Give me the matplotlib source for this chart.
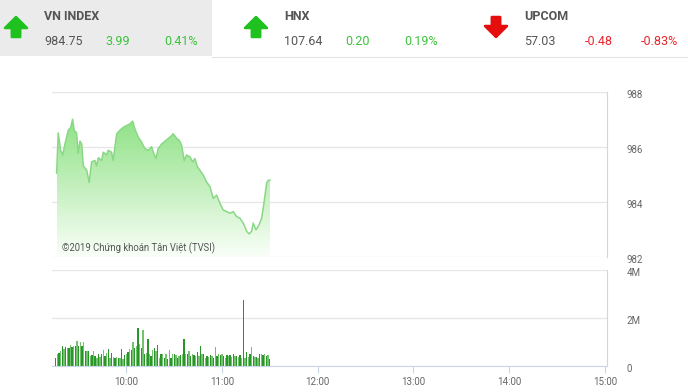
import numpy as np
import matplotlib
matplotlib.use("Agg")
import matplotlib.pyplot as plt
from matplotlib.patches import Polygon, Rectangle
from matplotlib.lines import Line2D
from matplotlib import font_manager
import matplotlib.transforms as mtrans

# ---------------- data ----------------
# index header
idx_names = ["VN INDEX", "HNX", "UPCOM"]
idx_values = ["984.75", "107.64", "57.03"]
idx_changes = ["3.99", "0.20", "-0.48"]
idx_pcts = ["0.41%", "0.19%", "-0.83%"]
idx_up = [True, True, False]

# intraday price (minutes after 09:00, index value)
price_minutes = [16.6, 17.6, 19.1, 20.4, 21.8, 23.9, 25.4, 26.6, 27.6, 29.1, 30.1,
                 31.2, 32.3, 33.3, 35.4, 37.0, 38.5, 40.6, 41.6, 42.7, 44.8, 45.8,
                 47.9, 48.9, 51.0, 52.0, 54.2, 56.2, 58.3, 60.4, 62.5, 64.2, 65.6,
                 67.7, 69.8, 71.9, 74.0, 76.1, 77.1, 78.8, 80.2, 82.4, 84.4, 86.5,
                 88.6, 89.6, 91.8, 93.4, 94.9, 96.5, 98.0, 100.1, 101.8, 103.2,
                 104.7, 106.3, 108.4, 110.5, 112.6, 114.7, 116.8, 118.9, 120.9,
                 123.1, 125.1, 127.2, 129.3, 131.4, 133.5, 135.6, 137.2, 138.7,
                 139.7, 141.4, 142.9, 145.0, 146.4, 148.1, 149.1, 150.2]
price_values = [985.04, 986.50, 985.87, 985.70, 986.10, 986.60, 986.70, 987.00,
                986.60, 986.50, 985.76, 986.20, 986.10, 985.30, 985.15, 984.70,
                985.45, 985.50, 985.30, 985.60, 985.50, 985.80, 985.70, 985.87,
                985.80, 985.50, 986.47, 986.60, 986.70, 986.77, 986.83, 986.93,
                986.65, 986.35, 986.17, 985.93, 985.87, 986.00, 985.80, 985.57,
                985.93, 986.10, 986.20, 986.30, 986.40, 986.47, 986.30, 986.23,
                986.05, 985.50, 985.70, 985.63, 985.45, 985.57, 985.27, 985.15,
                984.97, 984.72, 984.55, 984.12, 984.24, 983.94, 983.70, 983.64,
                983.58, 983.64, 983.46, 983.40, 983.22, 982.92, 982.83, 982.92,
                983.22, 982.98, 983.10, 983.40, 983.94, 984.67, 984.78, 984.78]

# volume (millions of shares), one bar per ~minute from 09:16 to 11:30
volume_m = [0.35, 0.52, 0.55, 0.63, 0.84, 0.70, 0.80, 0.77, 0.74, 0.88, 0.80, 0.84,
            0.84, 1.05, 0.84, 1.02, 0.84, 1.00, 0.63, 0.63, 0.63, 0.42, 0.46, 0.63,
            0.42, 0.35, 0.52, 0.38, 0.49, 0.66, 0.42, 0.56, 0.70, 0.35, 0.56, 0.38,
            0.32, 0.38, 0.32, 0.35, 0.70, 0.28, 0.46, 0.52, 0.60, 0.70, 0.66, 0.98,
            0.77, 0.84, 1.57, 0.91, 0.77, 1.52, 0.52, 0.56, 1.12, 0.52, 0.42, 0.66,
            0.77, 0.63, 0.88, 0.32, 0.52, 0.52, 0.35, 0.52, 0.28, 0.66, 0.35, 0.52,
            0.52, 0.46, 0.32, 0.42, 0.46, 0.52, 1.12, 0.52, 0.49, 0.63, 0.42, 0.49,
            0.46, 0.42, 0.60, 0.42, 0.84, 0.49, 0.52, 0.35, 0.42, 0.38, 0.46, 0.42,
            0.35, 0.80, 0.42, 0.52, 0.46, 0.49, 0.42, 0.35, 0.46, 0.42, 0.46, 0.38,
            0.49, 0.42, 0.42, 0.38, 0.46, 0.35, 2.76, 0.35, 0.60, 0.38, 0.49, 0.80,
            0.42, 0.38, 0.38, 0.32, 0.49, 0.52, 0.46, 0.49, 0.42, 0.46, 0.28]
vol_start_min, vol_end_min = 16.0, 150.0

price_ticks = [982, 984, 986, 988]
vol_ticks = [0, 2, 4]
vol_tick_labels = ["0", "2M", "4M"]
time_ticks = [10, 11, 12, 13, 14, 15]
time_tick_labels = ["10:00", "11:00", "12:00", "13:00", "14:00", "15:00"]
copyright_text = "©2019 Chứng khoán Tân Việt (TVSI)"

# ---------------- figure ----------------
W, H = 688, 392
fig = plt.figure(figsize=(W / 100, H / 100), dpi=100)
fig.patch.set_facecolor("white")

avail = {f.name for f in font_manager.fontManager.ttflist}
FONT = [f for f in ["Liberation Sans Narrow", "Roboto", "DejaVu Sans"] if f in avail]
narrow = "Liberation Sans Narrow" in avail
HS = 9.6 if narrow else 9.0      # header font size
TS = 7.6 if narrow else 7.0      # tick font size
CS = 7.6 if narrow else 6.85     # copyright font size

def fx(x):
    return x / W

def fy(y):
    return 1 - y / H

GRID = "#e6e6e6"
BORDER = "#ccd6eb"
TXT = "#666666"

x_left, x_right = 9 + 13.7 / 60, 15.021

# ---------- header ----------
fig.add_artist(Rectangle((0, fy(56)), fx(212), 56 / H, transform=fig.transFigure,
                         facecolor="#ebebeb", edgecolor="none"))
fig.add_artist(Line2D([fx(212), 1], [fy(57), fy(57)], transform=fig.transFigure,
                      color="#e3e3e3", lw=0.8))

def arrow(cx, top, bottom, up, color):
    hw, sw, hh = 11.0, 4.2, 11.0
    if up:
        pts = [(cx, top), (cx + hw, top + hh), (cx + sw, top + hh), (cx + sw, bottom),
               (cx - sw, bottom), (cx - sw, top + hh), (cx - hw, top + hh)]
    else:
        pts = [(cx, bottom), (cx + hw, bottom - hh), (cx + sw, bottom - hh), (cx + sw, top),
               (cx - sw, top), (cx - sw, bottom - hh), (cx - hw, bottom - hh)]
    fig.add_artist(Polygon([(fx(a), fy(b)) for a, b in pts], closed=True,
                           transform=fig.transFigure, facecolor=color, edgecolor=color,
                           lw=1.8, joinstyle="round"))

col_x = [44, 284, 524]
arr_x = [16, 256, 496]
for i in range(3):
    up = idx_up[i]
    c = "#1fc11f" if up else "#e60d0d"
    tc = "#3cc23c" if up else "#e8262b"
    arrow(arr_x[i], 17, 37, up, c)
    fig.text(fx(col_x[i]), fy(17), idx_names[i], fontsize=HS, fontweight="bold",
             color="#555555", family=FONT, va="center", ha="left")
    fig.text(fx(col_x[i]), fy(41.5), idx_values[i], fontsize=HS, color="#555555",
             family=FONT, va="center", ha="left")
    fig.text(fx(col_x[i] + 61), fy(41.5), idx_changes[i], fontsize=HS, color=tc,
             family=FONT, va="center", ha="left")
    fig.text(fx(col_x[i] + 154), fy(41.5), idx_pcts[i], fontsize=HS, color=tc,
             family=FONT, va="center", ha="right")

down_shift = mtrans.ScaledTranslation(0, -2.5 / 100, fig.dpi_scale_trans)

# ---------- price axes ----------
ax1 = fig.add_axes([fx(52), fy(256.7), (607 - 52) / W, (256.7 - 91.7) / H])
t_price = 9 + np.array(price_minutes) / 60.0
p = np.array(price_values)
ax1.set_xlim(x_left, x_right)
ax1.set_ylim(982, 988)
base = 982.0
poly_pts = np.vstack([np.column_stack([t_price, p]),
                      [[t_price[-1], base], [t_price[0], base]]])
poly = Polygon(poly_pts, closed=True, facecolor="none", edgecolor="none")
ax1.add_patch(poly)
grad = np.linspace(0, 1, 256).reshape(-1, 1)
top_c = np.array([0.54, 0.88, 0.50])
bot_c = np.array([0.98, 1.0, 0.975])
img = (grad[:, :, None] * top_c + (1 - grad[:, :, None]) * bot_c)
im = ax1.imshow(img, extent=[t_price[0], t_price[-1], base, 987.0], origin="lower",
                aspect="auto", zorder=1, alpha=0.95)
im.set_clip_path(poly)
ax1.plot(t_price, p, color="#8ad886", lw=1.1, zorder=2)
ax1.set_yticks(price_ticks)
ax1.set_yticklabels([str(v) for v in price_ticks])
ax1.grid(axis="y", color=GRID, lw=0.9)
ax1.set_axisbelow(True)
ax1.set_xticks([])
for s in ["top", "left", "bottom"]:
    ax1.spines[s].set_visible(False)
ax1.spines["right"].set_color(BORDER)
ax1.spines["right"].set_linewidth(0.8)
ax1.yaxis.tick_right()
ax1.tick_params(axis="y", length=0, pad=14, labelsize=TS, labelcolor=TXT)
for lab in ax1.get_yticklabels():
    lab.set_family(FONT)
    lab.set_transform(lab.get_transform() + down_shift)
ax1.set_xlim(x_left, x_right)
ax1.text(9 + 19.9 / 60, 982.32, copyright_text, fontsize=CS, color="#555555",
         family=FONT, va="center", ha="left", zorder=3)

# ---------- volume axes ----------
ax2 = fig.add_axes([fx(52), fy(366), (607 - 52) / W, (366 - 270) / H])
v = np.array(volume_m)
t_vol = 9 + np.linspace(vol_start_min, vol_end_min, len(v)) / 60.0
bar_colors = ["#2a962a" if i % 2 == 0 else "#72c270" for i in range(len(v))]
ax2.bar(t_vol, v, width=0.85 / 60, color=bar_colors, align="center", zorder=2,
        linewidth=0)
ax2.set_xlim(x_left, x_right)
ax2.set_ylim(0, 4)
ax2.set_yticks(vol_ticks)
ax2.set_yticklabels(vol_tick_labels)
ax2.grid(axis="y", color=GRID, lw=0.9)
ax2.set_axisbelow(True)
ax2.set_xticks(time_ticks)
ax2.set_xticklabels(time_tick_labels)
for s in ["top", "left"]:
    ax2.spines[s].set_visible(False)
ax2.spines["right"].set_color(BORDER)
ax2.spines["bottom"].set_color(BORDER)
ax2.spines["right"].set_linewidth(0.8)
ax2.spines["bottom"].set_linewidth(0.8)
ax2.yaxis.tick_right()
ax2.tick_params(axis="y", length=0, pad=14, labelsize=TS, labelcolor=TXT)
ax2.tick_params(axis="x", length=5, color=BORDER, pad=3, labelsize=TS, labelcolor=TXT)
for lab in ax2.get_yticklabels():
    lab.set_family(FONT)
    lab.set_transform(lab.get_transform() + down_shift)
for lab in ax2.get_xticklabels():
    lab.set_family(FONT)

fig.savefig("out.png", dpi=100, facecolor="white")
